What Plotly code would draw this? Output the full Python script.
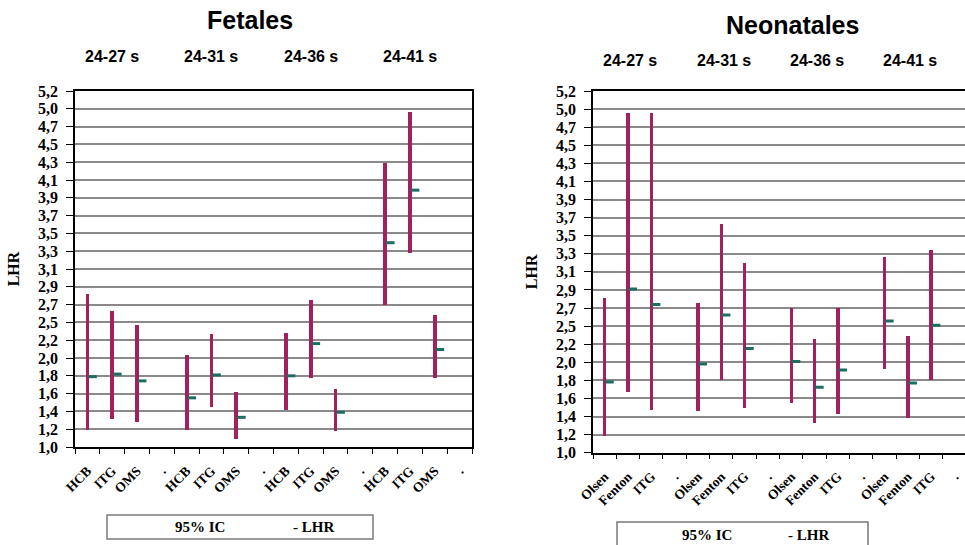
import plotly.graph_objects as go
import numpy as np

# ---------------- data ----------------
groups = ["24-27 s", "24-31 s", "24-36 s", "24-41 s"]

fet_labels = ["HCB", "ITG", "OMS", "."] * 4
fet_low = [1.20, 1.33, 1.30, None, 1.20, 1.47, 1.10, None, 1.44, 1.81, 1.19, None, 2.68, 3.29, 1.81, None]
fet_high = [2.81, 2.61, 2.44, None, 2.08, 2.33, 1.65, None, 2.35, 2.73, 1.68, None, 4.35, 4.95, 2.56, None]
fet_lhr = [1.83, 1.86, 1.78, None, 1.58, 1.85, 1.35, None, 1.84, 2.22, 1.41, None, 3.41, 4.03, 2.15, None]

neo_labels = ["Olsen", "Fenton", "ITG", "."] * 4
neo_low = [1.19, 1.70, 1.50, None, 1.48, 1.84, 1.52, None, 1.58, 1.34, 1.45, None, 1.97, 1.40, 1.84, None]
neo_high = [2.80, 4.95, 4.95, None, 2.74, 3.66, 3.20, None, 2.68, 2.32, 2.68, None, 3.27, 2.36, 3.35, None]
neo_lhr = [1.82, 2.90, 2.72, None, 2.03, 2.60, 2.21, None, 2.06, 1.76, 1.96, None, 2.53, 1.81, 2.48, None]

y_ticktext = ["1,0", "1,2", "1,4", "1,6", "1,8", "2,0", "2,2", "2,5", "2,7", "2,9", "3,1",
              "3,3", "3,5", "3,7", "3,9", "4,1", "4,3", "4,5", "4,7", "5,0", "5,2"]
y_min, y_max = 1.0, 5.2

# ---------------- styling ----------------
W, H = 965, 545
BAR_COLOR = "#A3205E"
LHR_COLOR = "#1C6E62"
GRID = "#8a8a8a"
SERIF = "Liberation Serif"
SANS = "Liberation Sans"


def px(x):
    return x / W


def py(y):
    return 1 - y / H


fig = go.Figure()


def add_panel(labels, low, high, lhr, xa, ya):
    idx = [i for i in range(len(labels)) if low[i] is not None]
    fig.add_trace(go.Bar(
        x=idx, base=[low[i] for i in idx], y=[high[i] - low[i] for i in idx],
        width=0.15, marker=dict(color=BAR_COLOR, line=dict(width=0)),
        xaxis=xa, yaxis=ya, showlegend=False, hoverinfo="skip"))
    fig.add_trace(go.Scatter(
        x=[i + 0.21 for i in idx], y=[lhr[i] for i in idx], mode="markers",
        marker=dict(symbol="line-ew", size=6, line=dict(width=3, color=LHR_COLOR)),
        xaxis=xa, yaxis=ya, showlegend=False, hoverinfo="skip"))


add_panel(fet_labels, fet_low, fet_high, fet_lhr, "x", "y")
add_panel(neo_labels, neo_low, neo_high, neo_lhr, "x2", "y2")

tickvals_y = list(np.linspace(y_min, y_max, len(y_ticktext)))

common_x = dict(
    tickangle=-45, ticks="", showgrid=False, zeroline=False, automargin=False,
    showline=True, linecolor="black", linewidth=1.5, mirror=True,
    ticklabelstandoff=9,
    tickfont=dict(family=SERIF, size=13.5, color="black", weight="bold"),
    minor=dict(ticks="outside", tick0=-0.5, dtick=1, ticklen=5, tickcolor="black", tickwidth=1, showgrid=False),
)
common_y = dict(
    range=[y_min, y_max], tickmode="array", tickvals=tickvals_y,
    ticktext=["<b>%s</b>" % t for t in y_ticktext], automargin=False,
    ticks="outside", ticklen=7, tickcolor="black", showgrid=True, gridcolor=GRID, gridwidth=1.5,
    zeroline=False, showline=True, linecolor="black", linewidth=1.5, mirror=True,
    ticklabelstandoff=5,
    tickfont=dict(family=SERIF, size=16, color="black", weight="bold"),
    title=dict(text="<b>LHR</b>", font=dict(family=SERIF, size=16, color="black", weight="bold"), standoff=14),
)

n = len(fet_labels)
fig.update_layout(
    template="none",
    width=W, height=H, margin=dict(l=0, r=0, t=0, b=0, autoexpand=False),
    paper_bgcolor="white", plot_bgcolor="white", bargap=0,
    xaxis=dict(domain=[px(75), px(472)], range=[-0.5, n - 0.5], anchor="y",
               tickmode="array", tickvals=list(range(n)), ticktext=fet_labels, **common_x),
    yaxis=dict(domain=[py(447), py(91)], anchor="x", **common_y),
    xaxis2=dict(domain=[px(593), 1.0], range=[-0.5, 15.45], anchor="y2",
                tickmode="array", tickvals=list(range(n)), ticktext=neo_labels, **common_x),
    yaxis2=dict(domain=[py(452.7), py(91)], anchor="x2", **common_y),
)

ann = []
title_font = dict(family=SANS, size=25, color="black", weight="bold")
sub_font = dict(family=SANS, size=16, color="black", weight="bold")
ann.append(dict(text="<b>Fetales</b>", x=px(250), y=py(20), xref="paper", yref="paper", showarrow=False,
                font=title_font, xanchor="center", yanchor="middle"))
ann.append(dict(text="<b>Neonatales</b>", x=px(792), y=py(25), xref="paper", yref="paper", showarrow=False,
                font=title_font, xanchor="center", yanchor="middle"))
for g, name in enumerate(groups):
    ann.append(dict(text="<b>%s</b>" % name, x=4 * g + 1, y=py(57), xref="x", yref="paper", showarrow=False,
                    font=sub_font, xanchor="center", yanchor="middle"))
    ann.append(dict(text="<b>%s</b>" % name, x=4 * g + 1.1, y=py(60), xref="x2", yref="paper", showarrow=False,
                    font=sub_font, xanchor="center", yanchor="middle"))

# legend boxes
leg_font = dict(family=SERIF, size=15, color="black", weight="bold")
shapes = [
    dict(type="rect", xref="paper", yref="paper", x0=px(107), x1=px(373), y0=py(539), y1=py(515),
         line=dict(color="#7a7a7a", width=1.5), fillcolor="white"),
    dict(type="rect", xref="paper", yref="paper", x0=px(617), x1=px(868), y0=py(550), y1=py(522),
         line=dict(color="#7a7a7a", width=1.5), fillcolor="white"),
]
for (xa, xb, yy) in [(200, 313, 527), (707, 808, 535)]:
    ann.append(dict(text="<b>95% IC</b>", x=px(xa), y=py(yy), xref="paper", yref="paper", showarrow=False,
                    font=leg_font, xanchor="center", yanchor="middle"))
    ann.append(dict(text="<b>- LHR</b>", x=px(xb), y=py(yy), xref="paper", yref="paper", showarrow=False,
                    font=leg_font, xanchor="center", yanchor="middle"))

fig.update_layout(annotations=ann, shapes=shapes)
fig.write_html("out.html", config={"displayModeBar": False},
               post_script="document.body.style.margin='0';document.body.style.overflow='hidden';")
